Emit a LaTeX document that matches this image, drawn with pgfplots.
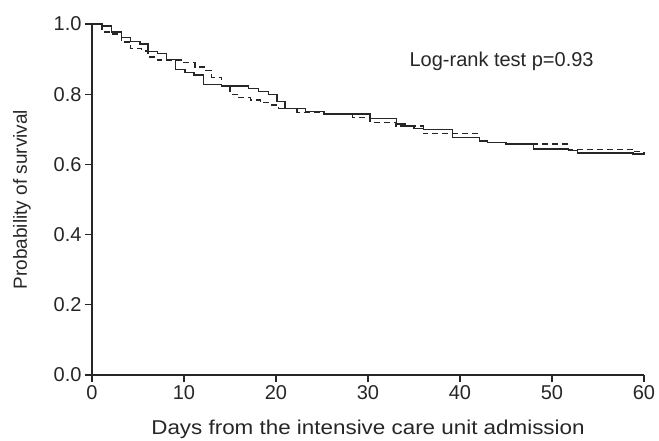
\documentclass[border=0pt]{standalone}
\usepackage{fontspec}
\setmainfont{Liberation Sans}
\usepackage{graphicx}
\usepackage{pgfplots}
\pgfplotsset{compat=1.18}
\definecolor{ink}{HTML}{262626}
\begin{document}
\begin{tikzpicture}
\begin{axis}[
  scale only axis, width=552pt, height=351pt,
  xmin=0, xmax=60, ymin=0, ymax=1,
  axis lines=left,
  axis line style={-, line width=1.1pt, ink},
  xtick={0,10,20,30,40,50,60},
  ytick={0,0.2,0.4,0.6,0.8,1},
  yticklabel style={/pgf/number format/.cd, fixed, fixed zerofill, precision=1},
  /pgf/number format/assume math mode=true,
  tick style={ink, line width=1.1pt},
  tick align=outside, major tick length=7pt,
  ticklabel style={font=\fontsize{20}{24}\selectfont, text=ink},
  xlabel={\scalebox{1.12}[1]{Days from the intensive care unit admission}},
  ylabel={Probability of survival},
  xlabel style={font=\fontsize{20}{24}\selectfont, text=ink,
    at={(axis description cs:0.5,-0.1709)}, anchor=base},
  ylabel style={font=\fontsize{19}{24}\selectfont, text=ink,
    at={(axis description cs:-0.1178,0.5)}, anchor=base, rotate=0},
  clip=false,
]
% solid curve
\addplot[const plot, ink, line width=1.4pt] coordinates {
  (0,1.0) (1.1,0.994) (2.1,0.977) (3.2,0.962) (4.2,0.95) (5.2,0.943)
  (6.1,0.922) (7.1,0.916) (8.1,0.899) (9.1,0.871) (10.1,0.861) (11.1,0.855)
  (12.1,0.828) (14.1,0.823) (17.0,0.817) (18.1,0.807) (19.2,0.80) (20.1,0.779)
  (21.0,0.76) (23.2,0.75) (25.2,0.744) (30.2,0.731) (33.1,0.715) (34.0,0.709)
  (35.0,0.703) (36.0,0.70) (39.2,0.677) (42.1,0.667) (43.0,0.663) (45.0,0.658)
  (48.0,0.644) (51.8,0.639) (52.8,0.633) (58.8,0.63) (60,0.627)
};
% dashed curve
\addplot[const plot, ink, line width=1.4pt, dash pattern=on 6pt off 4pt] coordinates {
  (0,1.0) (1.1,0.977) (2.1,0.972) (3.2,0.949) (4.2,0.93) (5.4,0.923)
  (6.1,0.906) (7.1,0.897) (9.8,0.89) (11.2,0.878) (12.4,0.868) (13.0,0.848)
  (14.1,0.823) (15.0,0.80) (16.0,0.79) (17.2,0.783) (18.3,0.776) (19.3,0.769)
  (20.3,0.76) (22.3,0.748) (25.2,0.742) (28.3,0.734) (30.2,0.72) (33.0,0.709)
  (36.0,0.688) (42.1,0.667) (43.0,0.663) (45.0,0.658) (51.7,0.643)
  (58.8,0.636) (60,0.63)
};
\node[anchor=west, font=\fontsize{20}{24}\selectfont, text=ink, inner sep=0pt]
  at (axis cs:34.5,0.895) {Log-rank test p=0.93};
\end{axis}
\pgfresetboundingbox
\path (-92pt,-65pt) rectangle (567pt,375pt);
\end{tikzpicture}
\end{document}
